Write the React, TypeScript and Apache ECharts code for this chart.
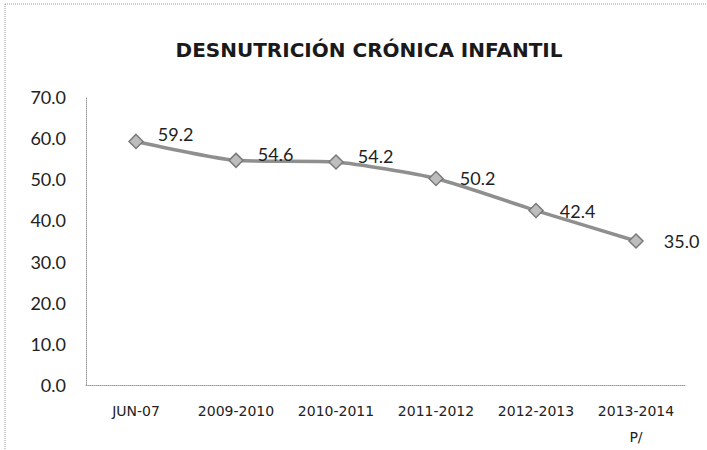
import React, { useEffect, useRef } from "react";
import * as echarts from "echarts";

const categories = ["JUN-07", "2009-2010", "2010-2011", "2011-2012", "2012-2013", "2013-2014\nP/"];
const values = [59.2, 54.6, 54.2, 50.2, 42.4, 35.0];
const labelOffsets = [[2, -7], [2, -6], [2, -6], [4, 0], [4, 0], [8, 0]];
const yMin = 0;
const yMax = 70;
const yInterval = 10;

export default function App() {
  const ref = useRef<HTMLDivElement>(null);
  useEffect(() => {
    if (!ref.current) return;
    const chart = echarts.init(ref.current, undefined, { renderer: "svg" });
    chart.setOption({
      animation: false,
      backgroundColor: "#ffffff",
      title: {
        text: "DESNUTRICIÓN CRÓNICA INFANTIL",
        left: 364,
        textAlign: "center",
        top: 35,
        textStyle: {
          fontFamily: "DejaVu Sans",
          fontWeight: "bold",
          fontSize: 20,
          color: "#1a1a1a",
        },
      },
      grid: { left: 86, right: 21, top: 97, bottom: 58, containLabel: false },
      xAxis: {
        type: "category",
        data: categories,
        boundaryGap: true,
        axisLine: { show: true, lineStyle: { color: "#999", type: "dotted", width: 1 } },
        axisTick: { show: false },
        axisLabel: {
          interval: 0,
          margin: 13,
          fontFamily: "DejaVu Sans",
          fontSize: 14,
          color: "#222",
          lineHeight: 26,
        },
      },
      yAxis: {
        type: "value",
        min: yMin,
        max: yMax,
        interval: yInterval,
        axisLine: { show: true, lineStyle: { color: "#999", type: "dotted", width: 1 } },
        axisTick: { show: false },
        splitLine: { show: false },
        axisLabel: {
          margin: 20,
          fontFamily: "Lato",
          fontSize: 18,
          color: "#222",
          formatter: (v: number) => v.toFixed(1),
        },
      },
      series: [
        {
          type: "line",
          data: values.map((v, i) => ({
            value: v,
            label: { offset: labelOffsets[i] },
          })),
          smooth: 0.2,
          symbol: "diamond",
          symbolSize: 14,
          lineStyle: { color: "#8f8f8f", width: 3.5 },
          itemStyle: { color: "#bdbdbd", borderColor: "#7a7a7a", borderWidth: 1.5 },
          label: {
            show: true,
            position: "right",
            distance: 12,
            fontFamily: "Lato",
            fontSize: 18,
            color: "#222",
            formatter: (p: any) => Number(p.value).toFixed(1),
          },
        },
      ],
      graphic: [
        {
          type: "line",
          shape: { x1: 5, y1: 4, x2: 5, y2: 450 },
          style: { stroke: "#9a9a9a", lineWidth: 1, lineDash: [1, 1] },
          silent: true,
        },
        {
          type: "line",
          shape: { x1: 5, y1: 4, x2: 707, y2: 4 },
          style: { stroke: "#9a9a9a", lineWidth: 1, lineDash: [1, 1] },
          silent: true,
        },
      ],
    });
    return () => chart.dispose();
  }, []);
  return <div ref={ref} style={{ width: 707, height: 450, position: "absolute", left: 0, top: 0 }} />;
}
